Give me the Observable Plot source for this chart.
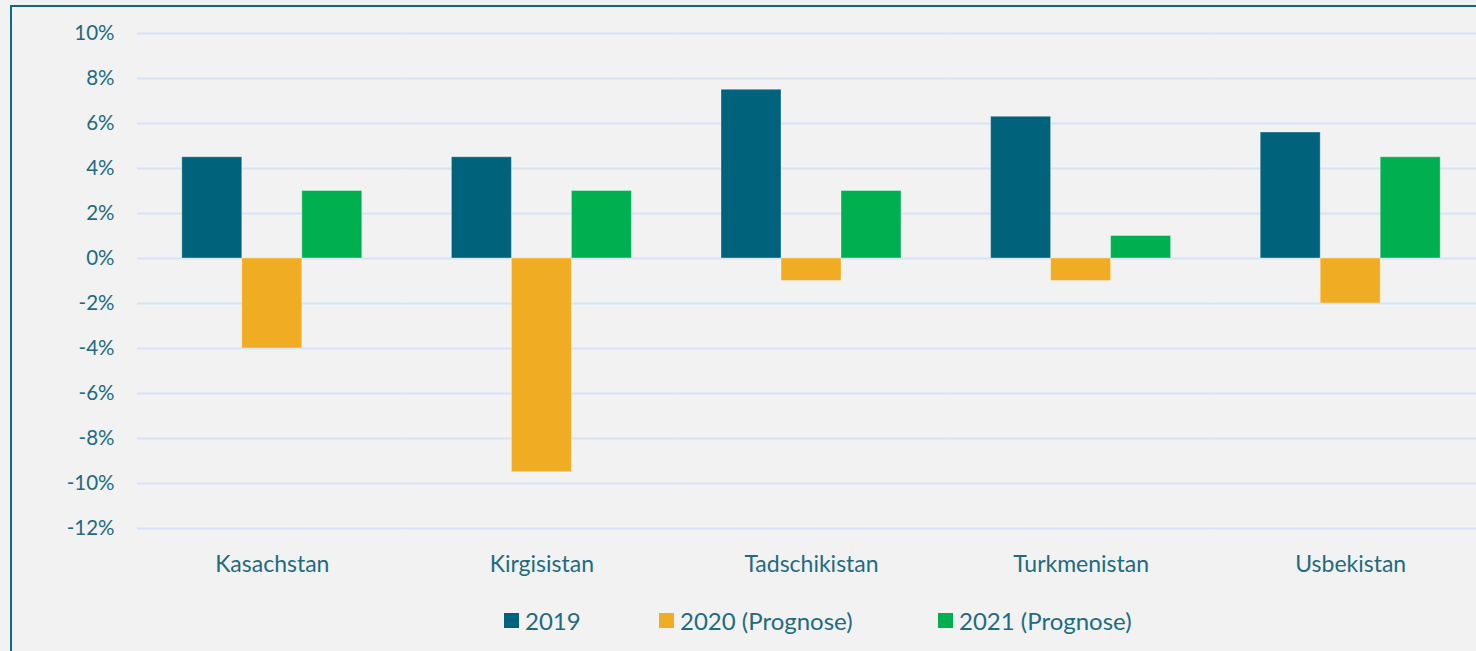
<!DOCTYPE html>
<html>
<head>
<meta charset="utf-8">
<script src="https://cdn.jsdelivr.net/npm/d3@7"></script>
<script src="https://cdn.jsdelivr.net/npm/@observablehq/plot@0.6"></script>
<style>
  html, body { margin: 0; padding: 0; background: #f2f2f2; overflow: hidden; width: 1476px; height: 651px; }
  #frame { position: absolute; left: 10px; top: 5px; width: 1500px; height: 700px; border-left: 2px solid #0e6a80; border-top: 2px solid #0e6a80; box-sizing: border-box; }
  #chart { position: absolute; left: 0; top: 0; }
  .item { position: absolute; top: 607px; display: flex; align-items: center; font-family: Lato, sans-serif; font-size: 24px; color: #1f6b80; height: 26px; }
  .sw { width: 15px; height: 15px; margin-right: 6px; }
</style>
</head>
<body>
<div id="frame"></div>
<div id="chart"></div>
<div id="legend"></div>
<script>
const countries = ["Kasachstan", "Kirgisistan", "Tadschikistan", "Turkmenistan", "Usbekistan"];
const series = ["2019", "2020 (Prognose)", "2021 (Prognose)"];
const v2019 = [4.5, 4.5, 7.5, 6.3, 5.6];
const v2020 = [-4, -9.5, -1, -1, -2];
const v2021 = [3, 3, 3, 1, 4.5];
const colors = ["#00637b", "#f0ac22", "#00b050"];
const yTicks = [-12, -10, -8, -6, -4, -2, 0, 2, 4, 6, 8, 10];

const valuesBySeries = [v2019, v2020, v2021];
const data = [];
countries.forEach((c, i) => {
  series.forEach((s, j) => data.push({country: c, series: s, value: valuesBySeries[j][i]}));
});

const textColor = "#1f6b80";

const chart = Plot.plot({
  width: 1485,
  height: 590,
  marginLeft: 137,
  marginRight: 0,
  marginTop: 33,
  marginBottom: 62,
  style: {background: "transparent", fontFamily: "Lato, sans-serif", color: textColor, overflow: "visible", maxWidth: "none"},
  fx: {domain: countries, padding: 0, round: false, label: null},
  x: {domain: series, paddingInner: 0, paddingOuter: 0.7467, round: false, axis: null},
  y: {domain: [-12, 10], label: null},
  color: {domain: series, range: colors},
  marks: [
    Plot.gridY(yTicks, {stroke: "#d5e3f5", strokeWidth: 2, strokeOpacity: 1}),
    Plot.barY(data, {fx: "country", x: "series", y: "value", fill: "series", stroke: "#ffffff", strokeOpacity: 0.35, strokeWidth: 1, inset: 0}),
    Plot.axisY({ticks: yTicks, tickFormat: d => `${d}%`, tickSize: 0, tickPadding: 23, fontSize: 20.5, label: null, fill: textColor}),
    Plot.axisFx({anchor: "bottom", tickSize: 0, tickPadding: 27, fontSize: 23, label: null, fill: textColor})
  ]
});
document.getElementById("chart").appendChild(chart);

const legend = document.getElementById("legend");
const lefts = [504, 659, 938];
series.forEach((s, i) => {
  const item = document.createElement("div");
  item.className = "item";
  item.style.left = lefts[i] + "px";
  const sw = document.createElement("span");
  sw.className = "sw";
  sw.style.background = colors[i];
  const t = document.createElement("span");
  t.textContent = s;
  item.appendChild(sw);
  item.appendChild(t);
  legend.appendChild(item);
});
</script>
</body>
</html>
